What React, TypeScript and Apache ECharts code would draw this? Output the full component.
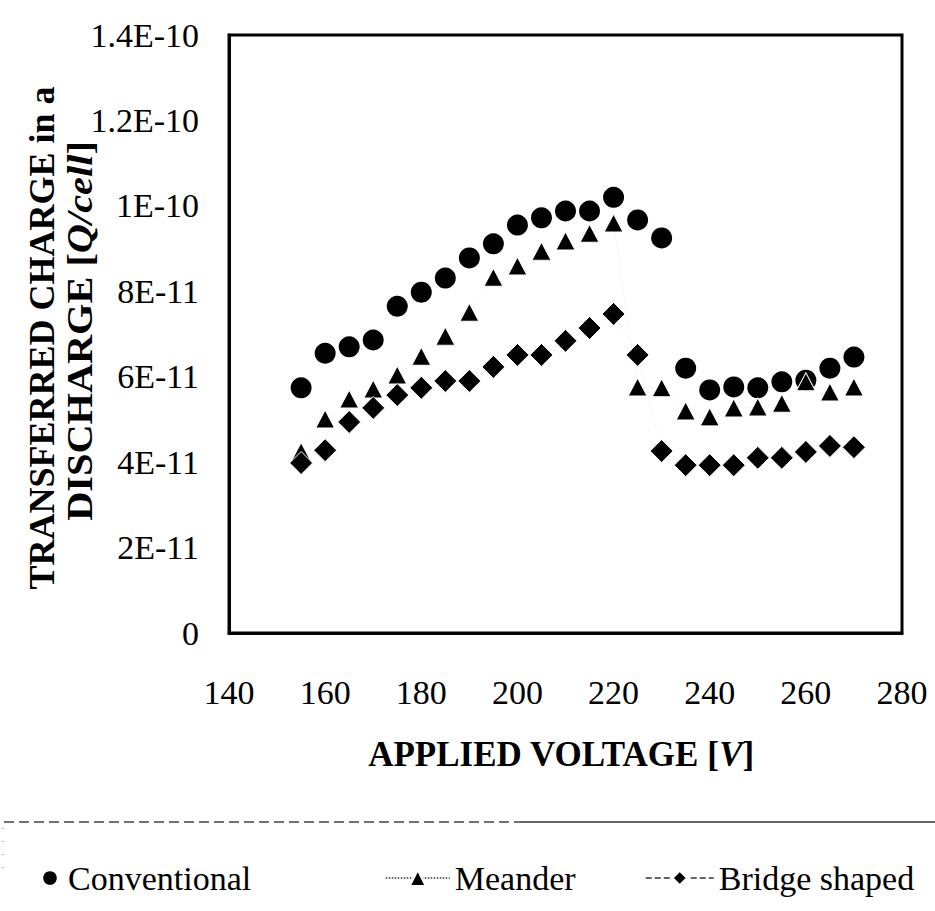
import React, { useEffect, useRef } from 'react';
import * as echarts from 'echarts';

// Applied voltage [V]
const voltages = [155, 160, 165, 170, 175, 180, 185, 190, 195, 200, 205, 210, 215, 220, 225, 230, 235, 240, 245, 250, 255, 260, 265, 270];
// Transferred charge, in units of 1E-11 Q/cell
const conventional = [5.74, 6.55, 6.70, 6.86, 7.65, 7.98, 8.31, 8.78, 9.11, 9.55, 9.72, 9.88, 9.88, 10.2, 9.67, 9.25, 6.20, 5.69, 5.76, 5.74, 5.88, 5.92, 6.20, 6.46];
const meander = [4.25, 5.01, 5.48, 5.71, 6.04, 6.48, 6.95, 7.51, 8.33, 8.59, 8.94, 9.18, 9.36, 9.60, 5.76, 5.74, 5.20, 5.06, 5.27, 5.29, 5.38, 5.88, 5.64, 5.76];
const bridgeShaped = [3.98, 4.28, 4.94, 5.27, 5.57, 5.74, 5.90, 5.90, 6.23, 6.51, 6.51, 6.84, 7.14, 7.47, 6.51, 4.26, 3.93, 3.93, 3.93, 4.10, 4.10, 4.24, 4.38, 4.35];

const yTickLabels = ['0', '2E-11', '4E-11', '6E-11', '8E-11', '1E-10', '1.2E-10', '1.4E-10'];
const seriesNames = ['Conventional', 'Meander', 'Bridge shaped'];

const FONT = 'Liberation Serif';

export default function App() {
  const ref = useRef<HTMLDivElement>(null);

  useEffect(() => {
    if (!ref.current) return;
    const chart = echarts.init(ref.current, null, { renderer: 'svg' });
    const pair = (arr: number[]) => voltages.map((v, i) => [v, arr[i]]);

    const legendBase = {
      orient: 'horizontal',
      textStyle: { fontFamily: FONT, fontSize: 34, color: '#000' },
      top: 856,
    };

    chart.setOption({
      animation: false,
      backgroundColor: '#fff',
      textStyle: { fontFamily: FONT },
      grid: {
        left: 229,
        right: 33,
        top: 35,
        bottom: 278,
        show: true,
        borderColor: '#000',
        borderWidth: 3,
      },
      xAxis: {
        type: 'value',
        min: 140,
        max: 280,
        interval: 20,
        axisLine: { show: true, lineStyle: { color: '#000', width: 3 } },
        axisTick: { show: false },
        splitLine: { show: false },
        axisLabel: { fontFamily: FONT, fontSize: 34, color: '#000', margin: 42 },
      },
      yAxis: {
        type: 'value',
        min: 0,
        max: 14,
        interval: 2,
        axisLine: { show: true, lineStyle: { color: '#000', width: 3 } },
        axisTick: { show: false },
        splitLine: { show: false },
        axisLabel: {
          fontFamily: FONT,
          fontSize: 34,
          color: '#000',
          margin: 30,
          formatter: (v: number) => yTickLabels[Math.round(v / 2)] ?? '',
        },
      },
      legend: [
        { ...legendBase, data: [seriesNames[0]], left: 32, itemWidth: 26, itemHeight: 17, lineStyle: { width: 0 } },
        { ...legendBase, data: [seriesNames[1]], left: 380, itemWidth: 64, itemHeight: 20, lineStyle: { width: 1.5, type: 'dotted', color: '#333', opacity: 1 } },
        { ...legendBase, data: [seriesNames[2]], left: 640, itemWidth: 68, itemHeight: 18, lineStyle: { width: 1.5, type: 'dashed', color: '#333', opacity: 1 } },
      ],
      series: [
        {
          name: seriesNames[0],
          type: 'line',
          data: pair(conventional),
          symbol: 'circle',
          symbolSize: 21,
          itemStyle: { color: '#000' },
          lineStyle: { width: 1, type: 'dotted', color: '#000', opacity: 0 },
          z: 2,
        },
        {
          name: seriesNames[1],
          type: 'line',
          data: pair(meander),
          symbol: 'triangle',
          symbolSize: [19, 18],
          itemStyle: { color: '#000', borderColor: '#fff', borderWidth: 1 },
          lineStyle: { width: 1, type: 'dotted', color: '#000', opacity: 0.07 },
          z: 3,
        },
        {
          name: seriesNames[2],
          type: 'line',
          data: pair(bridgeShaped),
          symbol: 'diamond',
          symbolSize: 23,
          itemStyle: { color: '#000', borderColor: '#fff', borderWidth: 1 },
          lineStyle: { width: 1, type: 'dotted', color: '#000', opacity: 0.07 },
          z: 4,
        },
      ],
      graphic: [
        {
          type: 'text',
          x: 42,
          y: 338,
          rotation: Math.PI / 2,
          style: {
            text: 'TRANSFERRED CHARGE in a',
            font: `bold 36px "${FONT}"`,
            fill: '#000',
            textAlign: 'center',
            textVerticalAlign: 'middle',
          },
        },
        {
          type: 'text',
          x: 80,
          y: 331,
          rotation: Math.PI / 2,
          scaleX: 1.12,
          style: {
            text: '{b|DISCHARGE [}{i|Q/cell}{b|]}',
            textAlign: 'center',
            textVerticalAlign: 'middle',
            rich: {
              b: { font: `bold 36px "${FONT}"`, fill: '#000' },
              i: { font: `italic bold 36px "${FONT}"`, fill: '#000' },
            },
          },
        },
        {
          type: 'text',
          x: 561,
          y: 754,
          style: {
            text: '{b|APPLIED VOLTAGE [}{i|V}{b|]}',
            textAlign: 'center',
            textVerticalAlign: 'middle',
            rich: {
              b: { font: `bold 35px "${FONT}"`, fill: '#000' },
              i: { font: `italic bold 35px "${FONT}"`, fill: '#000' },
            },
          },
        },
        {
          type: 'line',
          shape: { x1: 4, y1: 822, x2: 520, y2: 822 },
          style: { stroke: '#444', lineWidth: 1.5, lineDash: [10, 5] },
        },
        {
          type: 'line',
          shape: { x1: 520, y1: 822, x2: 935, y2: 822 },
          style: { stroke: '#333', lineWidth: 1.5 },
        },
        {
          type: 'line',
          shape: { x1: 3, y1: 828, x2: 3, y2: 870 },
          style: { stroke: '#666', lineWidth: 1, lineDash: [1, 12] },
        },
      ],
    });

    return () => chart.dispose();
  }, []);

  return <div ref={ref} style={{ position: 'fixed', left: 0, top: 0, width: 935, height: 911 }} />;
}
